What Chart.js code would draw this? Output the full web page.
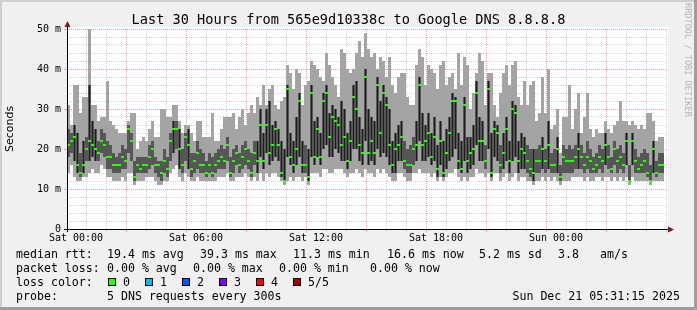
<!DOCTYPE html>
<html><head><meta charset="utf-8">
<script src="https://cdn.jsdelivr.net/npm/chart.js@4/dist/chart.umd.min.js"></script>
<style>
html,body{margin:0;padding:0;background:#f0f0f0;}
#wrap{position:relative;width:697px;height:310px;background:#f0f0f0;overflow:hidden;font-family:"DejaVu Sans Mono",monospace;color:#000;}
#c{position:absolute;left:0;top:0;}
.t{position:absolute;white-space:pre;font-size:11.6px;line-height:14px;}
.box{position:absolute;width:6px;height:6px;border:1px solid #000;}
#title{position:absolute;left:0;top:11px;width:697px;text-align:center;font-size:13.6px;line-height:16px;white-space:pre;}
#side{position:absolute;left:683px;top:3px;writing-mode:vertical-rl;font-size:8.6px;color:#b8b8b8;white-space:pre;line-height:10px;}
.bT{position:absolute;left:0;top:0;width:697px;height:2px;background:#cfcfcf;}
.bL{position:absolute;left:0;top:0;width:2px;height:310px;background:#cfcfcf;}
.bR{position:absolute;right:0;top:0;width:3px;height:310px;background:#9e9e9e;}
.bB{position:absolute;left:0;bottom:0;width:697px;height:3px;background:#9e9e9e;}
</style></head>
<body>
<div id="wrap">
<canvas id="c" width="697" height="310"></canvas>
<div class="bT"></div><div class="bL"></div><div class="bR"></div><div class="bB"></div>
<div id="title">Last 30 Hours from 565e9d10338c to Google DNS 8.8.8.8</div>
<div id="side">RRDTOOL / TOBI OETIKER</div>
<div id="legend"></div>
</div>
<script>
// ---- data (milliseconds), one sample every 0.15 h starting at Fri 23:33 ----
const sampleStartHour = -0.45;
const sampleStepHours = 0.15;
const med = [21,22,23,16,14,16,20,22,21,20, 19,22,21,18,18,16,16,16,18,17, 25,22,13,16,15,16,16,18,20,16,
 16,14,17,15,22,25,25,20,16,23, 21,15,17,19,16,16,14,16,14,16, 17,18,17,21,14,17,19,16,18,20,
 17,14,19,17,26,17,26,19,21,25, 21,14,12,35,18,16,20,32,16,16, 13,34,18,25,18,32,34,23,28,27,
 26,21,23,17,22,33,30,21,19,38, 19,22,19,36,24,34,31,21,16,20, 21,23,17,16,16,20,21,36,21,22,
 24,18,23,15,22,14,19,24,32,32, 17,15,31,17,19,20,34,22,22,17, 35,14,25,24,16,19,25,17,30,29,
 17,20,19,17,15,14,17,17,20,17, 21,16,16,20,13,18,17,17,17,18, 20,18,16,18,17,15,16,18,17,21,
 18,15,20,17,18,16,22,12,22,17, 15,16,17,14,12,20,14,16,16];
const hi = [31,26,36,36,29,33,33,50,31,31, 27,28,28,37,27,26,25,24,24,24, 27,29,29,20,22,23,22,25,27,23,
 23,30,30,28,28,31,31,27,24,26, 26,24,22,27,27,23,23,23,29,22, 22,25,28,28,28,29,25,28,30,26,
 29,31,29,33,31,36,31,35,36,31, 30,32,33,41,39,35,40,39,31,36, 37,42,41,40,38,37,44,41,38,36,
 33,45,44,40,39,40,44,47,43,49, 45,43,44,40,43,42,38,43,36,34, 38,39,39,33,31,31,41,45,43,36,
 41,40,39,35,41,42,36,38,39,35, 44,36,43,41,30,34,39,44,42,31, 39,39,31,28,34,39,41,36,41,42,
 33,31,37,31,36,37,27,29,38,29, 40,25,26,30,19,28,28,36,25,30, 34,24,28,34,25,23,25,24,24,27,
 25,24,26,27,32,27,27,26,27,26, 25,26,25,29,29,27,22,23,23];
const lo = [14,16,13,12,12,13,13,14,15,14, 14,16,15,13,13,12,12,12,13,12, 14,14,11,12,12,12,13,13,13,12,
 11,11,12,12,14,15,16,13,12,14, 13,12,12,13,12,12,12,12,12,12, 13,13,13,14,12,12,13,13,13,14,
 13,12,13,12,14,12,14,13,14,14, 13,12,11,12,13,12,13,13,12,13, 11,14,14,14,13,15,15,14,14,15,
 15,15,14,13,14,14,15,14,13,15, 14,14,13,15,14,15,14,13,12,12, 14,14,13,12,12,14,14,15,14,14,
 14,13,14,12,13,12,13,14,14,15, 13,12,13,12,13,13,15,14,14,13, 14,12,14,14,12,13,14,12,13,14,
 12,13,13,12,12,11,12,12,13,12, 13,12,13,12,11,12,12,12,13,13, 13,13,12,13,12,12,13,13,12,13,
 13,12,13,12,13,12,13,11,13,12, 12,12,12,12,11,12,12,12,12];
const q1 = [18,19,17,14,13,14,17,17,18,17, 17,19,18,15,15,14,14,14,15,15, 19,17,12,14,14,14,14,15,16,14,
 13,12,14,13,17,19,20,15,14,17, 15,13,14,15,14,14,13,14,13,14, 15,15,15,17,13,14,16,14,15,16,
 15,13,16,14,18,15,19,16,17,18, 17,13,12,18,16,14,16,18,14,14, 12,18,16,18,16,20,21,18,18,20,
 19,17,17,15,17,20,20,17,16,22, 16,17,16,20,18,19,18,16,14,14, 17,17,15,14,14,16,17,22,17,17,
 18,16,17,13,16,13,15,17,18,20, 15,14,17,14,15,16,21,17,17,15, 20,13,18,17,14,15,17,14,17,18,
 14,15,15,14,13,12,14,14,15,14, 15,14,14,14,12,14,14,14,14,15, 15,15,14,15,14,14,14,15,14,16,
 15,14,16,14,15,14,16,12,16,14, 14,14,14,13,12,14,13,14,14];
const q3 = [25,24,26,24,19,22,23,36,27,25, 22,25,24,22,21,19,18,19,21,20, 26,24,17,18,18,18,18,21,22,18,
 17,17,20,18,24,27,27,25,20,24, 25,19,19,22,20,19,17,19,18,19, 20,21,20,23,18,20,21,19,21,22,
 20,19,22,22,30,24,30,32,26,27, 25,22,20,36,24,22,28,34,22,21, 20,36,27,28,24,34,36,29,31,30,
 28,32,30,24,27,36,37,28,25,40, 30,28,27,38,32,36,33,30,22,24, 26,27,22,20,21,23,27,38,29,26,
 29,24,28,21,27,22,25,28,34,33, 24,22,33,23,23,26,37,28,27,21, 37,24,27,26,21,24,28,22,32,31,
 22,24,23,21,20,20,20,21,23,20, 27,19,20,23,16,21,20,21,20,21, 24,21,19,22,20,18,19,21,20,24,
 21,18,22,20,21,19,24,16,24,20, 18,19,20,19,16,22,17,19,19];

const gridHours = [0,1,2,3,4,5,6,7,8,9,10,11,12,13,14,15,16,17,18,19,20,21,22,23,24,25,26,27,28,29];
const labelHours = [0, 6, 12, 18, 24];
const timeLabels = ["Sat 00:00", "Sat 06:00", "Sat 12:00", "Sat 18:00", "Sun 00:00"];
const yGrid = [0,2,4,6,8,10,12,14,16,18,20,22,24,26,28,30,32,34,36,38,40,42,44,46,48,50];
const yLabelValues = [0,10,20,30,40,50];
const yLabels = ["0","10 m","20 m","30 m","40 m","50 m"];

const statsRtt = [["median rtt:",16],["19.4 ms avg",107],["39.3 ms max",200],["11.3 ms min",293],["16.6 ms now",387],["5.2 ms sd",479],["3.8",558],["am/s",600]];
const statsLoss = [["packet loss:",16],["0.00 % avg",107],["0.00 % max",193],["0.00 % min",279],["0.00 % now",370]];
const lossLabels = ["0","1","2","3","4","5/5"];
const lossColors = ["#26ff00","#00b8ff","#0059ff","#7e00ff","#ff0000","#a00000"];
const lossBoxX = [108,145,182,219,256,293];
const probeText = "5 DNS requests every 300s";
const dateText = "Sun Dec 21 05:31:15 2025";

// ---- legend text ----
const L = document.getElementById('legend');
function addText(txt, x, top, extra){ const d=document.createElement('div'); d.className='t'; d.textContent=txt; d.style.left=x+'px'; d.style.top=top+'px'; if(extra) Object.assign(d.style, extra); L.appendChild(d); return d; }
statsRtt.forEach(([t,x])=>addText(t,x,247));
statsLoss.forEach(([t,x])=>addText(t,x,261));
addText("loss color:",16,275);
lossLabels.forEach((t,i)=>{ const b=document.createElement('div'); b.className='box'; b.style.left=lossBoxX[i]+'px'; b.style.top='278px'; b.style.background=lossColors[i]; L.appendChild(b); addText(t,lossBoxX[i]+15,275); });
addText("probe:",16,289);
addText(probeText,107,289);
addText(dateText,0,289,{left:'auto',right:'17px'});

// ---- chart ----
const hours = med.map((_, i) => sampleStartHour + sampleStepHours * (i + 0.5));
const mk = (a, b) => hours.map((h, i) => ({x: h, y: [a[i], b[i]]}));
const medLo = med.map(v => v - 0.25), medHi = med.map(v => v + 0.25);
const barBase = {type:'bar', barPercentage:1, categoryPercentage:1, grouped:false, borderWidth:0, inflateAmount:0};

const plotDecor = {
  id:'plotDecor',
  beforeDraw(chart){
    const {ctx, chartArea:a} = chart;
    ctx.save(); ctx.fillStyle='#ffffff';
    ctx.fillRect(a.left, a.top-2, a.right-a.left+1, a.bottom-a.top+2);
    ctx.restore();
  },
  afterDraw(chart){
    const {ctx, chartArea:a} = chart;
    ctx.save();
    ctx.strokeStyle='#000'; ctx.lineWidth=1;
    ctx.beginPath();
    ctx.moveTo(a.left-3, a.bottom+0.5); ctx.lineTo(a.right+2, a.bottom+0.5);
    ctx.moveTo(a.left+0.5, a.bottom+3); ctx.lineTo(a.left+0.5, a.top-3);
    ctx.stroke();
    ctx.fillStyle='#8b1414';
    ctx.beginPath();
    ctx.moveTo(a.left+0.5, a.top-8); ctx.lineTo(a.left-2.5, a.top-2); ctx.lineTo(a.left+3.5, a.top-2); ctx.closePath(); ctx.fill();
    ctx.beginPath();
    ctx.moveTo(a.right+7, a.bottom+0.5); ctx.lineTo(a.right+1, a.bottom-2.5); ctx.lineTo(a.right+1, a.bottom+3.5); ctx.closePath(); ctx.fill();
    ctx.restore();
  }
};

const gridColX = c => (c.tick && c.tick.value % 3 === 0) ? '#eaa0a0' : '#d2d2d2';
const gridColY = c => (c.tick && c.tick.value % 10 === 0) ? '#eaa0a0' : '#d2d2d2';
const coreColor = c => (q3[c.dataIndex] - q1[c.dataIndex] >= 8) ? '#1c1c1c' : 'rgba(0,0,0,0)';

new Chart(document.getElementById('c'), {
  type:'bar',
  data:{ datasets:[
    Object.assign({label:'median', data: mk(medLo, medHi), backgroundColor:'#26ff00', order:1}, barBase),
    Object.assign({label:'core', data: mk(q1, q3), backgroundColor:coreColor, order:2}, barBase, {barPercentage:0.34}),
    Object.assign({label:'inner', data: mk(q1, q3), backgroundColor:'#565656', order:3}, barBase),
    Object.assign({label:'outer', data: mk(lo, hi), backgroundColor:'#a4a4a4', order:4}, barBase)
  ]},
  options:{
    responsive:false, animation:false, devicePixelRatio:1,
    layout:{padding:{left:0, top:29, right:30, bottom:0}},
    plugins:{legend:{display:false}, tooltip:{enabled:false}},
    scales:{
      x:{ type:'linear', min:-0.45, max:29.55, offset:false,
        afterBuildTicks: s => { s.ticks = gridHours.map(v => ({value:v})); },
        afterFit: s => { s.height = 81; },
        grid:{ color:gridColX, tickColor:gridColX, drawTicks:true, tickLength:3, lineWidth:1 },
        border:{ display:false, dash:[1,1] },
        ticks:{ autoSkip:false, maxRotation:0, minRotation:0, padding:0, color:'#000',
          font:{family:'DejaVu Sans Mono', size:10},
          callback: v => { const k = labelHours.indexOf(v); return k >= 0 ? timeLabels[k] : ''; } }
      },
      y:{ type:'linear', min:0, max:50,
        afterBuildTicks: s => { s.ticks = yGrid.map(v => ({value:v})); },
        afterFit: s => { s.width = 67; },
        grid:{ color:gridColY, tickColor: c => (c.tick && c.tick.value % 10 === 0) ? '#eaa0a0' : 'rgba(0,0,0,0)', drawTicks:true, tickLength:3, lineWidth:1 },
        border:{ display:false, dash:[1,1] },
        title:{ display:true, text:'Seconds', color:'#000', font:{family:'DejaVu Sans', size:11}, padding:{top:4, bottom:4} },
        ticks:{ autoSkip:false, padding:3, color:'#000', font:{family:'DejaVu Sans Mono', size:10},
          callback: v => { const k = yLabelValues.indexOf(v); return k >= 0 ? yLabels[k] : ''; } }
      }
    }
  },
  plugins:[plotDecor]
});
</script>
</body></html>
